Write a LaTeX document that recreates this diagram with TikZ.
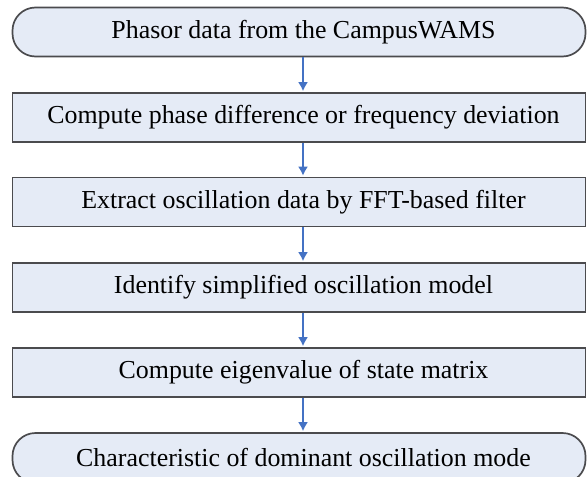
\documentclass[tikz,border=0pt]{standalone}
\usepackage{fontspec}
\setmainfont{Liberation Serif}
\usetikzlibrary{arrows.meta}
\definecolor{boxfill}{RGB}{229,235,246}
\definecolor{boxline}{RGB}{75,75,78}
\definecolor{flowblue}{RGB}{68,114,196}
\tikzset{
  stepbox/.style={draw=boxline, line width=1.7pt, fill=boxfill,
    minimum width=573pt, minimum height=49pt, inner sep=0pt,
    font=\fontsize{25.9}{30}\selectfont},
  endbox/.style={stepbox, rounded corners=23pt},
  flow/.style={draw=flowblue, line width=1.6pt,
    -{Latex[length=9pt,width=10pt]}, shorten >=1pt}
}
\newcommand{\tx}[1]{\hspace*{9pt}#1}
\begin{document}
\begin{tikzpicture}[x=1pt,y=-1pt]
  \clip (0,0) rectangle (587,477);
  \useasboundingbox (0,0) rectangle (587,477);
  \node[endbox]  (n1) at (299,32)    {\tx{Phasor data from the CampusWAMS}};
  \node[stepbox] (n2) at (299,117.5) {\tx{Compute phase difference or frequency deviation}};
  \node[stepbox] (n3) at (299,202)   {\tx{Extract oscillation data by FFT-based filter}};
  \node[stepbox] (n4) at (299,287.5) {\tx{Identify simplified oscillation model}};
  \node[stepbox] (n5) at (299,372.5) {\tx{Compute eigenvalue of state matrix}};
  \node[endbox, minimum height=50pt] (n6) at (299,458) {\tx{Characteristic of dominant oscillation mode}};
  \foreach \a/\b in {n1/n2,n2/n3,n3/n4,n4/n5,n5/n6}
    \draw[flow] ([xshift=4pt]\a.south) -- ([xshift=4pt]\b.north);
\end{tikzpicture}
\end{document}
